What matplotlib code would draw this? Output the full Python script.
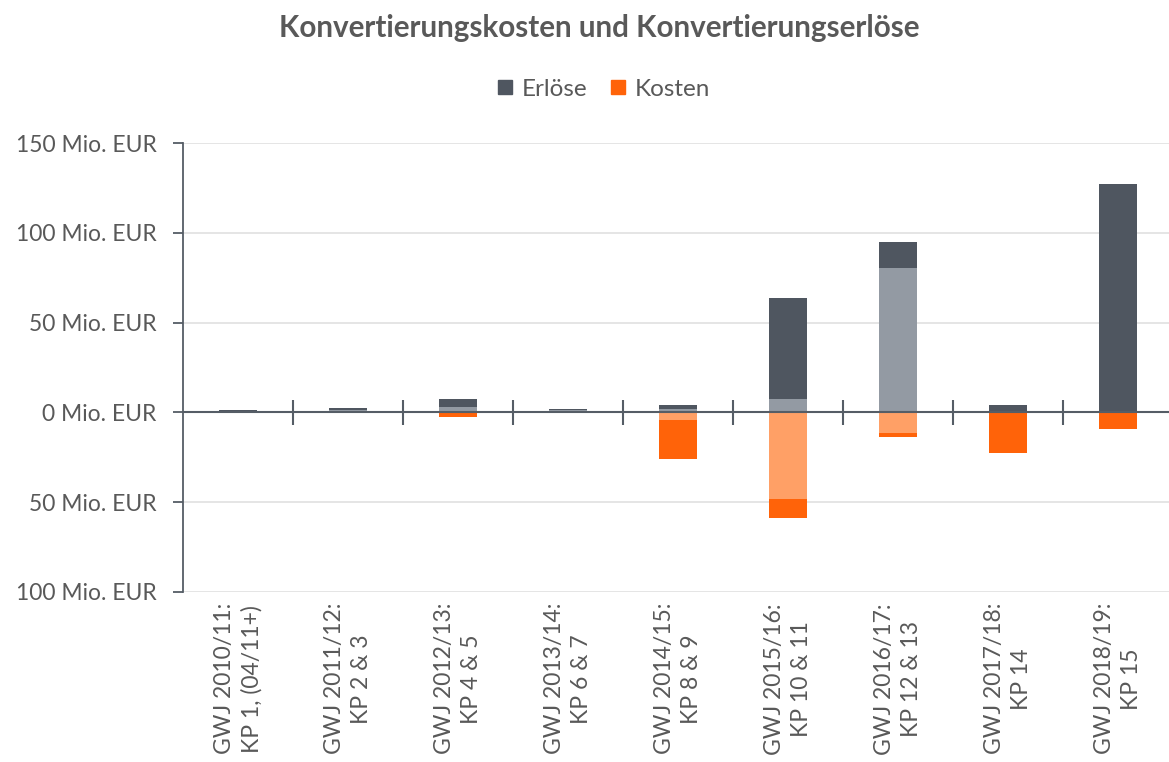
import numpy as np
import matplotlib.pyplot as plt
from matplotlib.patches import Patch

# Konvertierungskosten und -erlöse je Gaswirtschaftsjahr (Mio. EUR)
categories = ["GWJ 2010/11:\nKP 1, (04/11+)", "GWJ 2011/12:\nKP 2 & 3", "GWJ 2012/13:\nKP 4 & 5",
              "GWJ 2013/14:\nKP 6 & 7", "GWJ 2014/15:\nKP 8 & 9", "GWJ 2015/16:\nKP 10 & 11",
              "GWJ 2016/17:\nKP 12 & 13", "GWJ 2017/18:\nKP 14", "GWJ 2018/19:\nKP 15"]
erloese_hell = [0.0, 1.5, 2.8, 1.5, 2.0, 7.2, 80.2, 0.0, 0.0]
erloese_dunkel = [1.5, 0.7, 4.4, 0.6, 2.3, 56.3, 14.6, 4.3, 127.2]
kosten_hell = [0.0, 0.0, 0.0, 0.0, 4.0, 48.1, 11.7, 0.0, 0.0]
kosten_dunkel = [0.0, 0.0, 2.5, 0.0, 22.0, 10.6, 1.8, 22.6, 9.3]
yticks = [150, 100, 50, 0, -50, -100]
ytick_labels = ["150 Mio. EUR", "100 Mio. EUR", "50 Mio. EUR", "0 Mio. EUR", "50 Mio. EUR", "100 Mio. EUR"]

DARK = "#4f5660"
LIGHT = "#939aa3"
ORANGE = "#ff6309"
LORANGE = "#ffa066"
TXT = "#595959"
AXC = "#555d66"

plt.rcParams['font.family'] = ['Lato', 'DejaVu Sans']

fig = plt.figure(figsize=(11.69, 7.62), dpi=100)
W, H = 1169, 762
ax = fig.add_axes([183 / W, (H - 592) / H, 990 / W, (592 - 143) / H])

x = np.arange(len(categories))
bw = 0.34
eh = np.array(erloese_hell)
ed = np.array(erloese_dunkel)
kh = -np.array(kosten_hell)
kd = -np.array(kosten_dunkel)

ax.bar(x, eh, bw, color=LIGHT, zorder=3)
ax.bar(x, ed, bw, bottom=eh, color=DARK, zorder=3)
ax.bar(x, kh, bw, color=LORANGE, zorder=3)
ax.bar(x, kd, bw, bottom=kh, color=ORANGE, zorder=3)

ax.set_xlim(-0.5, len(categories) - 0.5)
ax.set_ylim(-100, 150)
ax.set_yticks(yticks)
ax.set_yticklabels(ytick_labels, fontsize=16.5, color=TXT)
ax.tick_params(axis='y', length=7, width=1.3, color=AXC, pad=12)
ax.grid(axis='y', color="#e3e3e3", lw=1.3, zorder=0)

ax.set_xticks(x)
ax.set_xticklabels(categories, rotation=90, fontsize=16.5, color=TXT,
                   ha='center', va='top', multialignment='center', linespacing=1.35)
ax.tick_params(axis='x', length=0, pad=8)

for side in ['top', 'right', 'bottom']:
    ax.spines[side].set_visible(False)
ax.spines['left'].set_color(AXC)
ax.spines['left'].set_linewidth(1.3)

# Nulllinie mit Trennstrichen zwischen den Kategorien
ax.axhline(0, color=AXC, lw=1.5, zorder=4)
ax.plot(x[:-1] + 0.5, np.zeros(len(x) - 1), ls='none', marker='|', ms=18,
        mew=1.5, color=AXC, zorder=4)

fig.text(599 / W, 1 - 28 / H, "Konvertierungskosten und Konvertierungserlöse",
         ha='center', va='center', fontsize=21.3, fontweight='bold', color=TXT)

handles = [Patch(color=DARK, label="Erlöse"), Patch(color=ORANGE, label="Kosten")]
fig.legend(handles=handles, loc='center', bbox_to_anchor=(604 / W, 1 - 89 / H), ncol=2,
           frameon=False, fontsize=17.5, labelcolor=TXT, handlelength=0.55,
           handleheight=0.55, handletextpad=0.4, columnspacing=1.0)

fig.savefig("out.png", dpi=100)
